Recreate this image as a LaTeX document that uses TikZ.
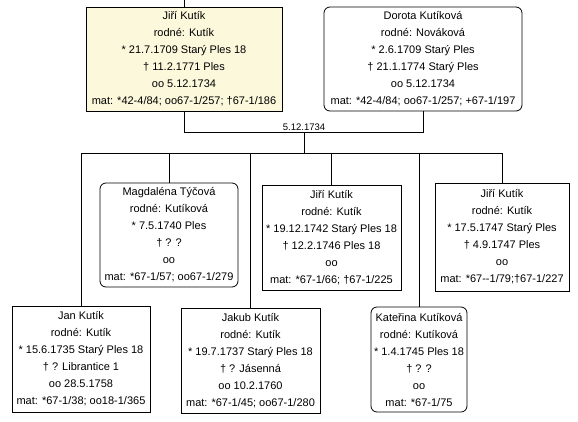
\documentclass[tikz,border=0pt]{standalone}
\usepackage{fontspec}
\setmainfont{Liberation Sans}
\definecolor{selfill}{RGB}{252,248,220}
\tikzset{
  person/.style={draw, line width=0.8pt, align=center, inner sep=0pt,
    font=\fontsize{11}{17}\selectfont},
  female/.style={person, rounded corners=6pt},
  conn/.style={line width=0.8pt},
  datelabel/.style={font=\fontsize{9.5}{11}\selectfont, inner sep=1pt}
}
\begin{document}
\begin{tikzpicture}[x=1pt,y=-1pt]
\useasboundingbox (0,0) rectangle (578,421);
% parents
\node[person, fill=selfill, minimum width=196pt, minimum height=104pt] (jiri) at (184,59)
  {Jiří Kutík\\rodné: Kutík\\* 21.7.1709 Starý Ples 18\\† 11.2.1771 Ples\\oo 5.12.1734\\mat: *42-4/84; oo67-1/257; †67-1/186};
\node[female, minimum width=198pt, minimum height=104pt] (dorota) at (423,59)
  {Dorota Kutíková\\rodné: Nováková\\* 2.6.1709 Starý Ples\\† 21.1.1774 Starý Ples\\oo 5.12.1734\\mat: *42-4/84; oo67-1/257; +67-1/197};
% children
\node[female, minimum width=138pt, minimum height=104pt] (magd) at (169,235)
  {Magdaléna Týčová\\rodné: Kutíková\\* 7.5.1740 Ples\\† ? ?\\oo\\mat: *67-1/57; oo67-1/279};
\node[person, minimum width=139pt, minimum height=105pt] (jiri42) at (331.5,237.5)
  {Jiří Kutík\\rodné: Kutík\\* 19.12.1742 Starý Ples 18\\† 12.2.1746 Ples 18\\oo\\mat: *67-1/66; †67-1/225};
\node[person, minimum width=134pt, minimum height=108pt] (jiri47) at (502,237)
  {Jiří Kutík\\rodné: Kutík\\* 17.5.1747 Starý Ples\\† 4.9.1747 Ples\\oo\\mat: *67-{}-1/79;†67-1/227};
\node[person, minimum width=138pt, minimum height=106pt] (jan) at (81,359)
  {Jan Kutík\\rodné: Kutík\\* 15.6.1735 Starý Ples 18\\† ? Librantice 1\\oo 28.5.1758\\mat: *67-1/38; oo18-1/365};
\node[person, minimum width=139pt, minimum height=105pt] (jakub) at (250.5,360.5)
  {Jakub Kutík\\rodné: Kutík\\* 19.7.1737 Starý Ples 18\\† ? Jásenná\\oo 10.2.1760\\mat: *67-1/45; oo67-1/280};
\node[female, minimum width=96pt, minimum height=105pt] (kat) at (419,359.5)
  {Kateřina Kutíková\\rodné: Kutíková\\* 1.4.1745 Ples 18\\† ? ?\\oo\\mat: *67-1/75};
% connectors
\coordinate (topend) at (184,0);
\coordinate (marr) at (304,132);
\coordinate (bus) at (304,153);
\draw[conn] (topend) -- (jiri.north);
\draw[conn] (jiri.south) -- (jiri.south |- marr) -- (dorota.south |- marr) -- (dorota.south);
\node[datelabel, anchor=south] (mdate) at (marr) {5.12.1734};
\draw[conn] (marr) -- (bus);
\draw[conn] (jan.north |- bus) -- (jiri47.north |- bus);
\foreach \c in {jan,magd,jakub,jiri42,kat,jiri47}
  \draw[conn] (\c.north |- bus) -- (\c.north);
\end{tikzpicture}
\end{document}
